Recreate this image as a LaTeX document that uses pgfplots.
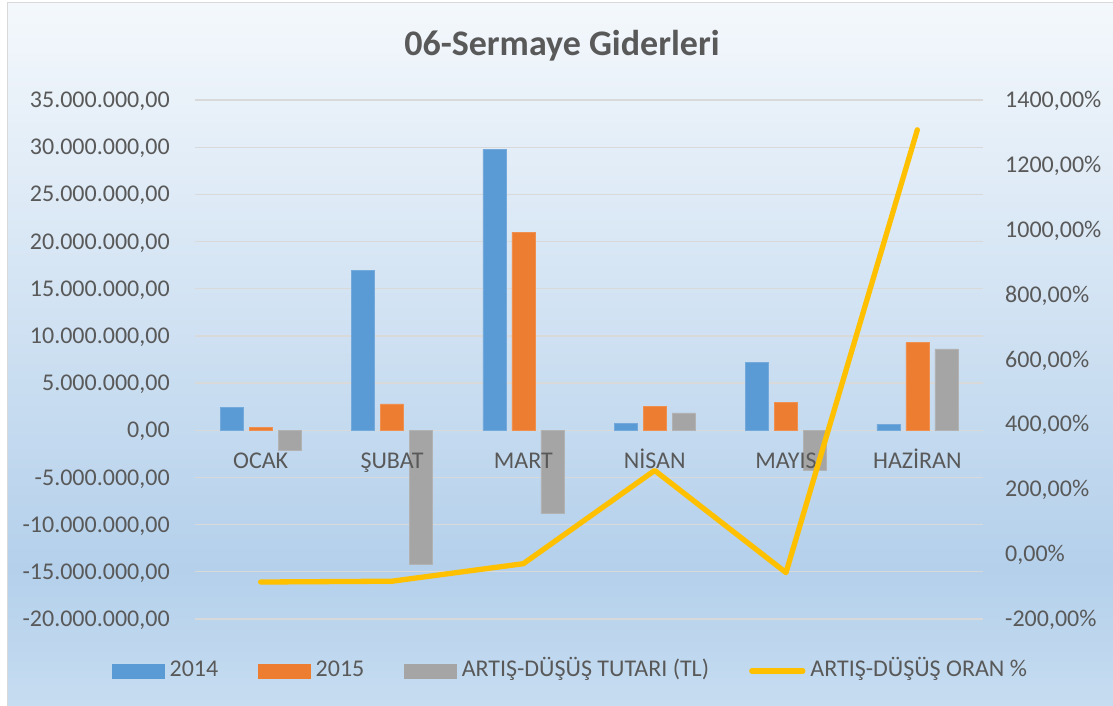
\documentclass[border=0pt]{standalone}
\usepackage{fontspec}
\setmainfont{Carlito}
\usepackage{pgfplots}
\pgfplotsset{compat=1.18}
\definecolor{cA}{RGB}{91,155,213}
\definecolor{cB}{RGB}{237,125,49}
\definecolor{cC}{RGB}{165,165,165}
\definecolor{cL}{RGB}{255,192,0}
\definecolor{textc}{RGB}{89,89,89}
\definecolor{gridc}{RGB}{217,217,217}
\definecolor{bgtop}{RGB}{244,248,252}
\definecolor{bgmid}{RGB}{180,208,235}
\definecolor{bgbot}{RGB}{199,221,241}
\pgfdeclareverticalshading{bgshade}{100bp}{color(0bp)=(bgbot); color(25bp)=(bgbot); color(35bp)=(bgmid); color(75bp)=(bgtop); color(100bp)=(bgtop)}
\begin{document}
\begin{tikzpicture}
\useasboundingbox (0bp,0bp) rectangle (1113bp,706bp);
\fill[white] (0bp,0bp) rectangle (1113bp,706bp);
\shade[shading=bgshade] (7.5bp,-5bp) rectangle (1120bp,703.5bp);
\draw[gridc, line width=1.5bp] (7.5bp,-5bp) rectangle (1120bp,703.5bp);
\node[font=\fontsize{36bp}{40bp}\selectfont\bfseries, text=textc, anchor=base] at (562bp,650bp) {06-Sermaye Giderleri};
\begin{axis}[
  at={(195bp,87bp)}, anchor=south west,
  scale only axis, width=788bp, height=519bp,
  xmin=-0.5, xmax=5.5, ymin=-20000000, ymax=35000000,
  axis x line=none, axis y line=left,
  axis line style={draw=none}, tick style={draw=none},
  xtick=\empty,
  ytick={-20000000,-15000000,-10000000,-5000000,0,5000000,10000000,15000000,20000000,25000000,30000000,35000000},
  scaled y ticks=false,
  yticklabel style={anchor=base east, xshift=-23bp, yshift=-7.6bp, inner sep=0pt, font=\fontsize{24bp}{28bp}\selectfont, text=textc,
    /pgf/number format/.cd, fixed, fixed zerofill, precision=2, 1000 sep={.}, use comma, assume math mode=true},
  ymajorgrids, grid style={draw=gridc, line width=1.3bp},
  ybar, bar width=23bp, clip=false,
]
\addplot[fill=cA, draw=cA!85!white, line width=0.6bp, bar shift=-29bp] coordinates {(0,2440000) (1,16960000) (2,29780000) (3,700000) (4,7210000) (5,660000)};
\addplot[fill=cB, draw=cB!85!white, line width=0.6bp, bar shift=0bp] coordinates {(0,310000) (1,2790000) (2,20980000) (3,2540000) (4,2970000) (5,9280000)};
\addplot[fill=cC, draw=cC!85!white, line width=0.6bp, bar shift=29bp] coordinates {(0,-2130000) (1,-14170000) (2,-8800000) (3,1840000) (4,-4240000) (5,8620000)};
\end{axis}
\begin{axis}[
  at={(195bp,87bp)}, anchor=south west,
  scale only axis, width=788bp, height=519bp,
  xmin=-0.5, xmax=5.5, ymin=-200, ymax=1400,
  axis x line*=bottom, axis y line*=right,
  axis line style={draw=none}, tick style={draw=none},
  xtick={0,1,2,3,4,5},
  xticklabels={OCAK,ŞUBAT,MART,NİSAN,MAYIS,HAZİRAN},
  xticklabel style={anchor=base, yshift=150bp, inner sep=0pt, font=\fontsize{24bp}{28bp}\selectfont, text=textc},
  ytick={-200,0,200,400,600,800,1000,1200,1400},
  yticklabel={\pgfmathprintnumber[fixed,fixed zerofill,precision=2,use comma,1000 sep={},assume math mode=true]{\tick}\%},
  yticklabel style={anchor=base west, xshift=22bp, yshift=-7.6bp, inner sep=0pt, font=\fontsize{24bp}{28bp}\selectfont, text=textc},
  clip=false,
  legend style={draw=none, fill=none, inner sep=0pt, outer sep=0pt,
    at={(axis description cs:-0.105,-0.1)}, anchor=west,
    font=\fontsize{24bp}{28bp}\selectfont, text=textc,
    nodes={inner sep=0pt, text height=16bp, text depth=4bp},
    /tikz/every odd column/.append style={column sep=5bp},
    /tikz/every even column/.append style={column sep=40bp}},
  legend columns=4, legend cell align=left,
]
\addlegendimage{legend image code/.code={\fill[cA] (0bp,-7bp) rectangle (52bp,7bp);}}
\addlegendentry{2014}
\addlegendimage{legend image code/.code={\fill[cB] (0bp,-7bp) rectangle (52bp,7bp);}}
\addlegendentry{2015}
\addlegendimage{legend image code/.code={\fill[cC] (0bp,-7bp) rectangle (52bp,7bp);}}
\addlegendentry{ARTIŞ-DÜŞÜŞ TUTARI (TL)}
\addplot[cL, line width=5.3bp, line cap=round, line join=round,
  legend image code/.code={\draw[cL, line width=5.3bp, line cap=round] (2bp,0bp) -- (53bp,0bp);}]
  coordinates {(0,-86) (1,-83.5) (2,-29.5) (3,258) (4,-57) (5,1308)};
\addlegendentry{ARTIŞ-DÜŞÜŞ ORAN \%}
\end{axis}
\end{tikzpicture}
\end{document}
